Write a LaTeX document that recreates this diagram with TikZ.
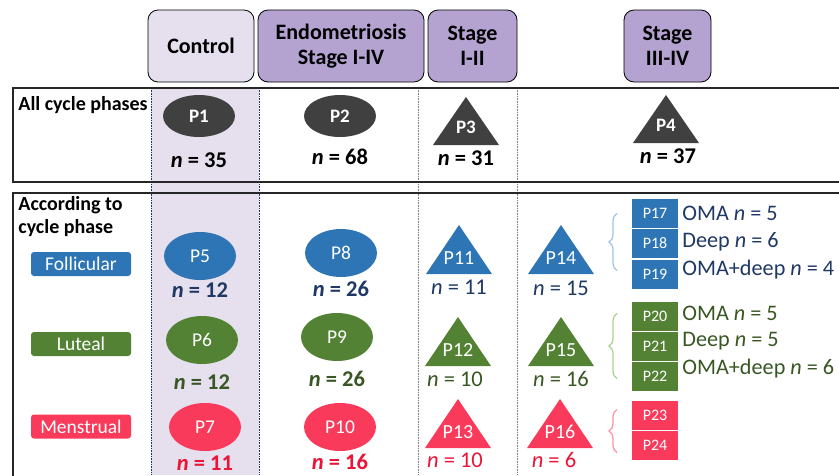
\documentclass[tikz,border=0pt]{standalone}
\usepackage{fontspec}
\setmainfont{Carlito}
\usetikzlibrary{shapes.geometric, decorations.pathreplacing}

\definecolor{ctrlfill}{RGB}{229,223,238}
\definecolor{endofill}{RGB}{180,162,209}
\definecolor{darkgrey}{RGB}{64,64,64}
\definecolor{follblue}{RGB}{46,117,182}
\definecolor{lutgreen}{RGB}{84,130,53}
\definecolor{menred}{RGB}{250,58,90}
\definecolor{navytext}{RGB}{31,56,100}
\definecolor{greentext}{RGB}{56,87,35}
\definecolor{redtext}{RGB}{235,20,55}
\definecolor{bracblue}{RGB}{157,195,230}
\definecolor{bracgreen}{RGB}{169,209,142}
\definecolor{bracred}{RGB}{255,143,163}

\tikzset{
  header/.style={draw=black, thick, rounded corners=10pt, align=center,
    minimum height=72pt, inner sep=0pt, font=\fontsize{22}{25}\selectfont\bfseries},
  rowtitle/.style={anchor=north west, align=left, inner sep=0pt,
    font=\fontsize{20}{23.5}\selectfont\bfseries},
  phasebox/.style={rounded corners=3pt, minimum width=100pt, minimum height=24pt,
    inner sep=0pt, text=white, font=\fontsize{19.5}{21}\selectfont},
  pell/.style={ellipse, minimum width=72pt, minimum height=48pt, inner sep=0pt,
    text=white, font=\fontsize{19.5}{21}\selectfont},
  trilabel/.style={inner sep=0pt, text=white, font=\fontsize{20}{22}\selectfont},
  nbold/.style={inner sep=0pt, font=\fontsize{22.5}{24}\selectfont\bfseries},
  nplain/.style={inner sep=0pt, font=\fontsize{22.5}{24}\selectfont},
  subbox/.style={draw=white, line width=1pt, minimum width=47pt, minimum height=30pt,
    inner sep=0pt, text=white, font=\fontsize{16}{18}\selectfont},
  subtext/.style={anchor=west, inner sep=0pt, font=\fontsize{22.2}{24}\selectfont},
  pbrace/.style={decorate, decoration={brace, amplitude=8pt}, line width=1.2pt},
}

\begin{document}
\begin{tikzpicture}[x=1pt, y=-1pt, thick]
  \useasboundingbox (0,0) rectangle (839,475);

  % control column and column separators
  \fill[ctrlfill] (151,88) rectangle (259,475);
  \draw[navytext, densely dotted, semithick] (151,88) -- (151,475) (259,88) -- (259,475);
  \foreach \X in {418, 517} {
    \draw[gray, densely dotted, semithick] (\X,88) -- (\X,475);
  }

  % table frames
  \draw[black!85, line width=1.5pt] (845,88) -- (13,88) -- (13,182) -- (845,182);
  \draw[black!85, line width=1.5pt] (845,193) -- (13,193) -- (13,480);

  % column headers
  \node[header, fill=ctrlfill, minimum width=106pt] (control) at (201,46) {Control};
  \node[header, fill=endofill, minimum width=166pt] (endo) at (341,46) {Endometriosis\\Stage I-IV};
  \node[header, fill=endofill, minimum width=89pt] (stagea) at (472.5,46) {Stage\\I-II};
  \node[header, fill=endofill, minimum width=87pt] (stageb) at (667.5,46) {Stage\\III-IV};

  % row titles
  \node[rowtitle] (allphases) at (18,96) {All cycle phases};
  \node[rowtitle] (according) at (18,196) {According to\\cycle phase};
  \node[phasebox, fill=follblue] (foll) at (81,264) {Follicular};
  \node[phasebox, fill=lutgreen] (lut) at (81,344) {Luteal};
  \node[phasebox, fill=menred] (men) at (81,426.5) {Menstrual};

  % ellipses
  \foreach \i/\x/\y in {1/199/116, 2/340/116} {
    \node[pell, fill=darkgrey, minimum height=42pt, font=\fontsize{19}{21}\selectfont\bfseries] (p\i) at (\x,\y) {P\i};
  }
  \foreach \i/\x/\y/\col in {5/200/256/follblue, 8/341/253/follblue,
      6/202/340/lutgreen, 9/337/337/lutgreen, 7/205/427/menred, 10/340/427/menred} {
    \node[pell, fill=\col] (p\i) at (\x,\y) {P\i};
  }

  % triangles
  \foreach \i/\x/\y/\col in {3/466/97/darkgrey, 4/666/95/darkgrey} {
    \fill[\col] (\x,\y) -- ++(33,48) -- ++(-66,0) -- cycle;
    \node[trilabel, font=\fontsize{19}{21}\selectfont\bfseries] (p\i) at (\x,\y+30) {P\i};
  }
  \foreach \i/\x/\y/\col in {11/459/225/follblue, 14/561/225/follblue,
      12/458/317/lutgreen, 15/561/317/lutgreen, 13/458/399/menred, 16/560/399/menred} {
    \fill[\col] (\x,\y) -- ++(33,49) -- ++(-66,0) -- cycle;
    \node[trilabel] (p\i) at (\x,\y+33) {P\i};
  }

  % group sizes
  \foreach \k/\x/\y/\v in {a/199/160/35, b/340/157/68, c/466/158/31, d/668/156/37} {
    \node[nbold] (n\k) at (\x,\y) {\textit{n} = \v};
  }
  \foreach \k/\x/\y/\col/\v in {e/200/290/navytext/12, f/341/289/navytext/26,
      g/202/382/greentext/12, h/337/379/greentext/26, i/205/463/redtext/11, j/340/462/redtext/16} {
    \node[nbold, text=\col] (n\k) at (\x,\y) {\textit{n} = \v};
  }
  \foreach \k/\x/\y/\col/\v in {k/459/287/navytext/11, l/561/288/navytext/15,
      m/455/379/greentext/10, o/561/379/greentext/16, q/455/460/redtext/10, r/554/460/redtext/6} {
    \node[nplain, text=\col] (n\k) at (\x,\y) {\textit{n} = \v};
  }

  % lesion subgroups
  \foreach \i/\y/\col in {17/213.5/follblue, 18/243.5/follblue, 19/274.5/follblue,
      20/316.5/lutgreen, 21/346.5/lutgreen, 22/376.5/lutgreen,
      23/415.5/menred, 24/445.5/menred} {
    \node[subbox, fill=\col] (p\i) at (655,\y) {P\i};
  }
  \node[subtext, text=navytext] (t17) at (682,213) {OMA \textit{n} = 5};
  \node[subtext, text=navytext] (t18) at (682,242) {Deep \textit{n} = 6};
  \node[subtext, text=navytext] (t19) at (682,270) {OMA+deep \textit{n} = 4};
  \node[subtext, text=greentext] (t20) at (682,313) {OMA \textit{n} = 5};
  \node[subtext, text=greentext] (t21) at (682,341) {Deep \textit{n} = 5};
  \node[subtext, text=greentext] (t22) at (682,369) {OMA+deep \textit{n} = 6};

  % braces
  \draw[pbrace, bracblue] ([xshift=-14pt, yshift=4pt]p19.west) -- ([xshift=-14pt]p17.west);
  \draw[pbrace, bracgreen] ([xshift=-14pt, yshift=-2pt]p22.west) -- ([xshift=-14pt, yshift=3pt]p20.west);
  \draw[pbrace, bracred] ([xshift=-14pt, yshift=-7pt]p24.west) -- ([xshift=-14pt, yshift=6pt]p23.west);
\end{tikzpicture}
\end{document}
